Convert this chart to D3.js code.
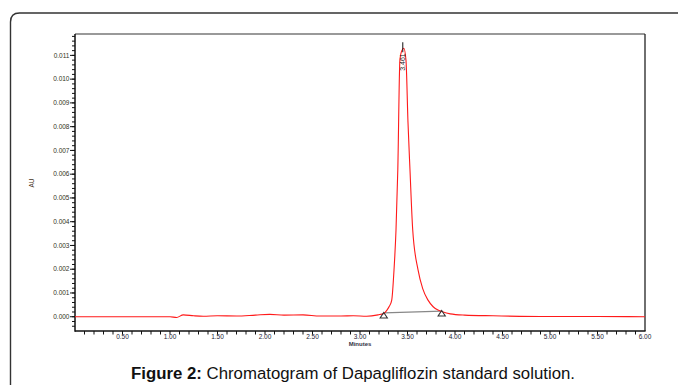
<!DOCTYPE html>
<html>
<head>
<meta charset="utf-8">
<script src="https://cdn.jsdelivr.net/npm/d3@7"></script>
<style>
  body { margin: 0; background: #fff; }
  svg { display: block; font-family: "Liberation Sans", Arial, sans-serif; }
</style>
</head>
<body>
<script>
// chromatogram trace (minutes, AU)
const times = [0, 0.5, 1.0, 1.07, 1.14, 1.25, 1.35, 1.5, 1.7, 1.9, 2.05, 2.2, 2.4, 2.58, 2.8, 2.93, 3.07, 3.19,
  3.25, 3.284, 3.31, 3.334, 3.358, 3.379, 3.398, 3.42, 3.44, 3.461, 3.484, 3.505, 3.526, 3.555, 3.611, 3.66,
  3.716, 3.77, 3.821, 3.86, 3.95, 4.1, 4.4, 5.0, 5.5, 6.0]
const signal = [0, 0, 0, -0.00003, 0.00008, 0.00004, 0.00002, 0.00004, 0.00003, 0.00007, 0.0001, 0.00007, 0.00008, 0.00003, 0.00003, 0.00004, 0.00002, 0.00008,
  0.00014, 0.00028, 0.00045, 0.0007, 0.00197, 0.00365, 0.0062, 0.0108, 0.0112, 0.0113, 0.0108, 0.0082, 0.0062, 0.00365, 0.00197, 0.00118,
  0.0007, 0.00042, 0.00028, 0.00022, 0.00012, 0.00007, 0.00004, 0.00001, 0.00001, 0]

const peakTime = 3.461
const peakLabel = "3.461"
const peakHeight = 0.0113
// integration start / end
const markTimes = [3.25, 3.86]
const markValues = [0.00016, 0.00024]

const xTicks = [0.5, 1, 1.5, 2, 2.5, 3, 3.5, 4, 4.5, 5, 5.5, 6]
const yTicks = [0, 0.001, 0.002, 0.003, 0.004, 0.005, 0.006, 0.007, 0.008, 0.009, 0.010, 0.011]

const captionBold = "Figure 2:"
const captionText = " Chromatogram of Dapagliflozin standard solution."

const width = 678, height = 385
const box = { left: 75, right: 645, top: 34, bottom: 331 }

const svg = d3.select("body").append("svg")
  .attr("width", width)
  .attr("height", height)

// outer rounded frame (runs off the right and bottom edges)
svg.append("path")
  .attr("d", "M10.5,400 L10.5,22 Q10.5,13 19.5,13 L700,13")
  .attr("fill", "none")
  .attr("stroke", "#333")
  .attr("stroke-width", 1.4)

const x = d3.scaleLinear().domain([0, 6]).range([box.left, box.right])
const y = d3.scaleLinear().domain([-0.0006, 0.0119]).range([box.bottom, box.top])

// minor ticks
const xMinor = d3.range(1, 60).map(d => d / 10)
const yMinor = d3.range(-2, 60).map(d => d * 0.0002).filter(d => d < 0.0119)

const xAxis = svg.append("g").attr("transform", `translate(0,${box.bottom})`)
xAxis.selectAll("line.minor").data(xMinor).join("line")
  .attr("x1", d => x(d)).attr("x2", d => x(d))
  .attr("y1", 0).attr("y2", 3.5)
  .attr("stroke", "#111").attr("stroke-width", 1)
xAxis.selectAll("text").data(xTicks).join("text")
  .attr("x", d => x(d)).attr("y", 7.5)
  .attr("text-anchor", "middle")
  .attr("font-size", 6.5)
  .attr("fill", "#223")
  .text(d => d3.format(".2f")(d))

const yAxis = svg.append("g").attr("transform", `translate(${box.left},0)`)
yAxis.selectAll("line.minor").data(yMinor).join("line")
  .attr("y1", d => y(d)).attr("y2", d => y(d))
  .attr("x1", 0).attr("x2", -3)
  .attr("stroke", "#111").attr("stroke-width", 1)
yAxis.selectAll("line.major").data(yTicks).join("line")
  .attr("y1", d => y(d)).attr("y2", d => y(d))
  .attr("x1", 0).attr("x2", -5)
  .attr("stroke", "#111").attr("stroke-width", 1)
yAxis.selectAll("text").data(yTicks).join("text")
  .attr("x", -5.5).attr("y", d => y(d))
  .attr("dy", "0.35em")
  .attr("text-anchor", "end")
  .attr("font-size", 6.5)
  .attr("fill", "#332")
  .text(d => d3.format(".3f")(d))

// plot box
svg.append("line").attr("x1", box.left).attr("x2", box.right).attr("y1", box.top).attr("y2", box.top)
  .attr("stroke", "#777").attr("stroke-width", 1.3)
svg.append("line").attr("x1", box.right).attr("x2", box.right).attr("y1", box.top).attr("y2", box.bottom)
  .attr("stroke", "#222").attr("stroke-width", 1.3)
svg.append("line").attr("x1", box.left).attr("x2", box.right + 0.6).attr("y1", box.bottom).attr("y2", box.bottom)
  .attr("stroke", "#111").attr("stroke-width", 1.5)
svg.append("line").attr("x1", box.left).attr("x2", box.left).attr("y1", box.top).attr("y2", box.bottom + 0.7)
  .attr("stroke", "#111").attr("stroke-width", 1.5)

// axis titles
svg.append("text")
  .attr("x", 360).attr("y", 346)
  .attr("text-anchor", "middle")
  .attr("font-size", 6).attr("font-weight", "bold")
  .attr("fill", "#334")
  .text("Minutes")
svg.append("text")
  .attr("transform", "translate(34,183) rotate(-90)")
  .attr("text-anchor", "middle")
  .attr("font-size", 6.5)
  .attr("fill", "#432")
  .text("AU")

// integration baseline and markers
const marks = markTimes.map((t, i) => [t, markValues[i]])
svg.append("line")
  .attr("x1", x(marks[0][0])).attr("y1", y(marks[0][1]))
  .attr("x2", x(marks[1][0])).attr("y2", y(marks[1][1]))
  .attr("stroke", "#888").attr("stroke-width", 1.2)

// trace
const trace = times.map((t, i) => [t, signal[i]])
svg.append("path")
  .datum(trace)
  .attr("d", d3.line().x(d => x(d[0])).y(d => y(d[1])).curve(d3.curveMonotoneX))
  .attr("fill", "none")
  .attr("stroke", "#ff1a1a")
  .attr("stroke-width", 1.1)

svg.selectAll("path.mark").data(marks).join("path")
  .attr("class", "mark")
  .attr("transform", d => `translate(${x(d[0])},${y(d[1])})`)
  .attr("d", "M0,-0.5 L3.6,5 L-3.6,5 Z")
  .attr("fill", "none")
  .attr("stroke", "#333")
  .attr("stroke-width", 1.1)

// peak apex label
const px = x(peakTime)
svg.append("line")
  .attr("x1", px - 1).attr("x2", px - 1)
  .attr("y1", y(peakHeight) - 6).attr("y2", y(peakHeight) + 4)
  .attr("stroke", "#111").attr("stroke-width", 1)
svg.append("text")
  .attr("transform", `translate(${px + 1.5},${y(peakHeight) + 5}) rotate(-90)`)
  .attr("text-anchor", "end")
  .attr("font-size", 7)
  .attr("fill", "#222")
  .text(peakLabel)

// caption
const cap = svg.append("text")
  .attr("x", 353).attr("y", 379)
  .attr("text-anchor", "middle")
  .attr("font-size", 16.8)
  .attr("fill", "#111")
cap.append("tspan").attr("font-weight", "bold").text(captionBold)
cap.append("tspan").text(captionText)
</script>
</body>
</html>
